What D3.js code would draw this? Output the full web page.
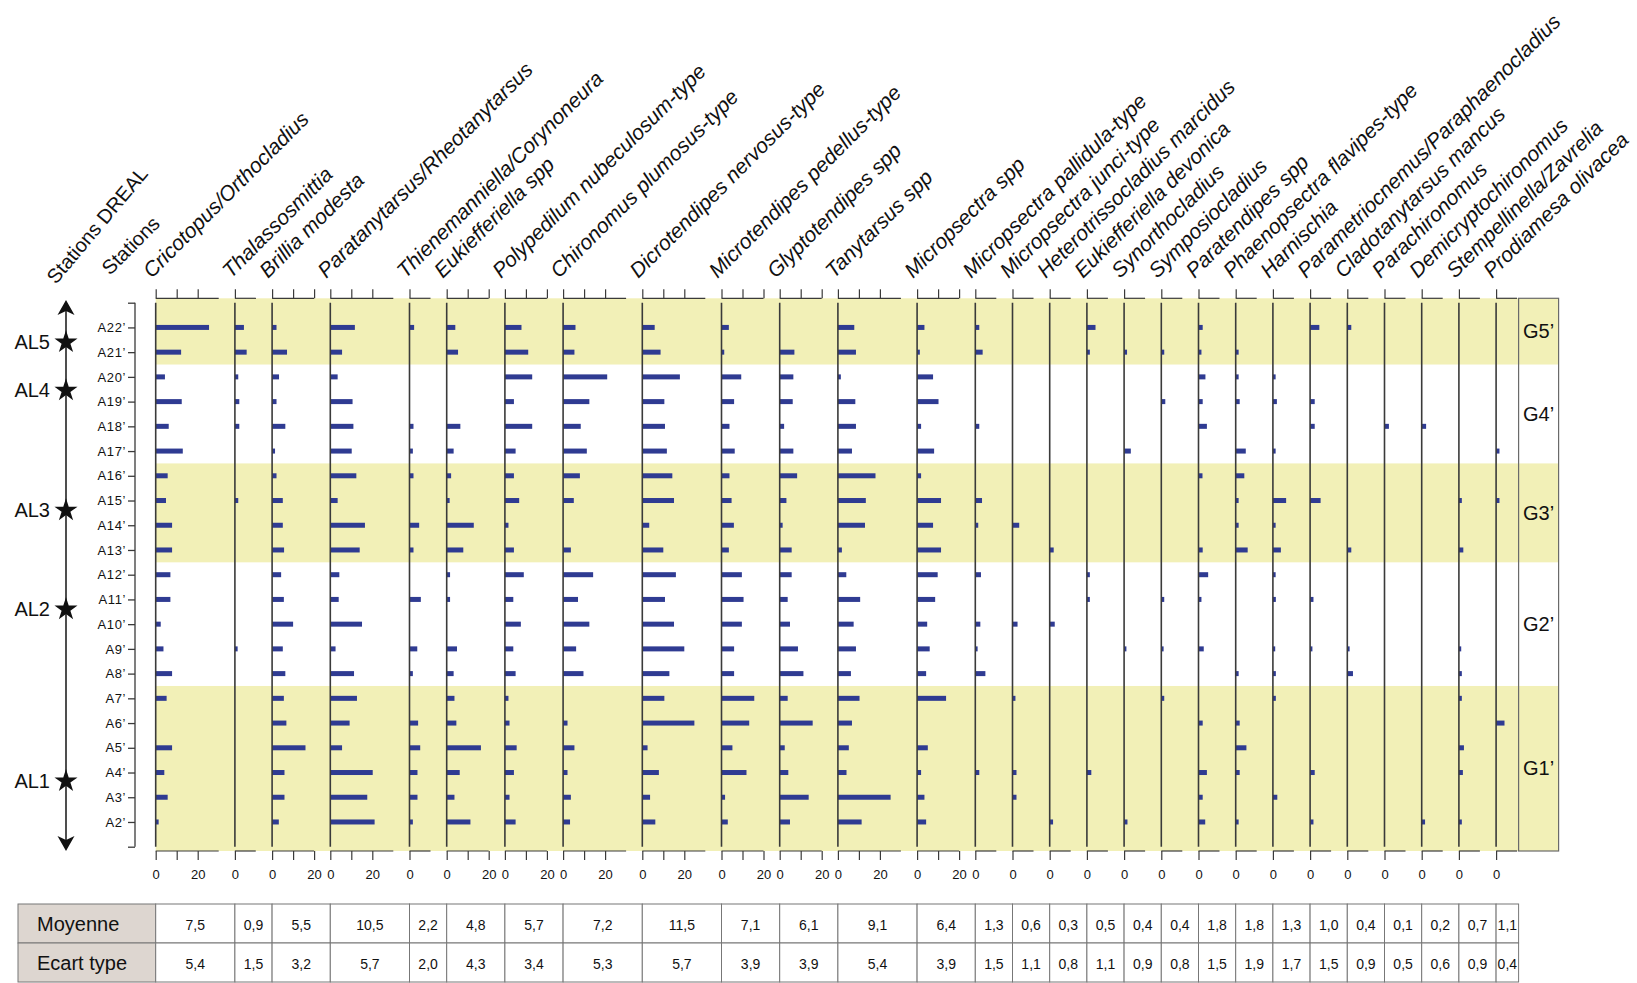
<!DOCTYPE html>
<html>
<head>
<meta charset="utf-8">
<script src="https://cdn.jsdelivr.net/npm/d3@7"></script>
<style>
  body { margin: 0; background: #fff; }
  svg { display: block; font-family: "Liberation Sans", Arial, sans-serif; }
</style>
</head>
<body>
<svg id="chart" width="1637" height="983"></svg>
<script>
// ---- Data ---------------------------------------------------------------
const taxa = [
  "Cricotopus/Orthocladius", "Thalassosmittia", "Brillia modesta",
  "Paratanytarsus/Rheotanytarsus", "Thienemanniella/Corynoneura",
  "Eukiefferiella spp", "Polypedilum nubeculosum-type", "Chironomus plumosus-type",
  "Dicrotendipes nervosus-type", "Microtendipes pedellus-type", "Glyptotendipes spp",
  "Tanytarsus spp", "Micropsectra spp", "Micropsectra pallidula-type",
  "Micropsectra junci-type", "Heterotrissocladius marcidus", "Eukiefferiella devonica",
  "Synorthocladius", "Symposiocladius", "Paratendipes spp", "Phaenopsectra flavipes-type",
  "Harnischia", "Parametriocnemus/Paraphaenocladius", "Cladotanytarsus mancus",
  "Parachironomus", "Demicryptochironomus", "Stempellinella/Zavrelia", "Prodiamesa olivacea"
];

// upper bound of each taxon's abundance axis (%)
const axisMax = [30, 10, 20, 30, 10, 20, 20, 30, 30, 20, 20, 30, 20,
                 10, 10, 10, 10, 10, 10, 10, 10, 10, 10, 10, 10, 10, 10, 10];

// stations, upstream (A22') to downstream (A2')
const stationNums = [22, 21, 20, 19, 18, 17, 16, 15, 14, 13, 12, 11, 10, 9, 8, 7, 6, 5, 4, 3, 2];

// relative abundance (%) of each taxon, one value per station (A22' .. A2')
const abundance = [
  [25.4, 12.1, 4.4, 12.4, 6.2, 12.9, 5.7, 4.9, 7.8, 7.8, 7.0, 7.0, 2.4, 3.7, 7.8, 5.2, 0, 7.8, 4.1, 5.7, 1.4],
  [4.3, 5.6, 1.6, 2.1, 2.1, 0, 0, 1.6, 0, 0, 0, 0, 0, 1.3, 0, 0, 0, 0, 0, 0, 0],
  [2.1, 7.1, 3.3, 2.1, 6.3, 1.4, 2.1, 5.1, 5.1, 5.7, 4.3, 5.6, 10.0, 5.1, 6.3, 5.6, 6.8, 15.9, 5.9, 5.9, 3.2],
  [11.7, 5.6, 3.5, 10.6, 11.0, 10.2, 12.4, 3.5, 16.5, 14.0, 4.3, 4.0, 15.1, 2.5, 11.3, 12.7, 9.2, 5.6, 20.2, 17.6, 21.1],
  [2.2, 0, 0, 0, 1.9, 1.6, 1.9, 0, 4.6, 1.9, 0, 5.4, 0, 3.7, 1.6, 0, 4.1, 5.1, 3.8, 3.8, 1.6],
  [4.1, 5.4, 0, 0, 6.5, 3.3, 2.1, 1.4, 12.9, 7.9, 1.6, 1.6, 0, 4.9, 3.3, 3.7, 4.6, 16.3, 6.2, 3.7, 11.3],
  [7.9, 11.1, 13.0, 4.3, 13.0, 5.1, 4.3, 6.8, 1.7, 4.3, 9.0, 4.0, 7.6, 4.0, 5.1, 1.7, 2.2, 5.6, 4.3, 2.2, 5.1],
  [5.9, 5.4, 21.0, 12.5, 8.4, 11.3, 8.0, 5.1, 0, 3.7, 14.3, 7.1, 12.5, 6.2, 9.7, 0, 2.1, 5.4, 2.1, 3.7, 3.3],
  [5.9, 8.7, 17.9, 10.5, 10.8, 11.7, 14.3, 15.1, 3.3, 10.0, 16.0, 10.8, 15.1, 20.0, 12.9, 10.5, 24.8, 2.5, 7.9, 3.7, 6.2],
  [3.5, 1.3, 9.4, 6.0, 3.8, 6.3, 3.8, 4.8, 5.9, 3.5, 9.7, 10.5, 9.7, 6.0, 6.0, 15.6, 13.2, 5.2, 11.9, 1.7, 3.0],
  [0, 7.0, 6.5, 6.2, 2.1, 6.5, 8.3, 3.2, 1.4, 5.7, 5.7, 3.8, 4.9, 8.7, 11.3, 3.8, 15.7, 2.4, 4.1, 13.8, 4.9],
  [7.8, 8.6, 1.4, 8.3, 8.6, 6.7, 17.9, 13.3, 12.9, 1.9, 4.0, 10.6, 7.5, 8.6, 6.2, 10.3, 6.7, 5.2, 4.1, 25.1, 11.3],
  [3.5, 1.3, 7.6, 10.2, 1.9, 8.1, 1.9, 11.4, 7.6, 11.4, 9.8, 8.6, 4.8, 6.0, 4.3, 13.8, 0, 5.1, 1.9, 3.5, 4.3],
  [1.9, 3.5, 0, 0, 1.9, 0, 0, 3.2, 1.4, 0, 2.7, 0, 2.4, 1.1, 4.8, 0, 0, 0, 1.9, 0, 0],
  [0, 0, 0, 0, 0, 0, 0, 0, 3.2, 0, 0, 0, 2.4, 0, 0, 1.4, 0, 0, 1.9, 1.9, 0],
  [0, 0, 0, 0, 0, 0, 0, 0, 0, 1.9, 0, 0, 2.4, 0, 0, 0, 0, 0, 0, 0, 1.6],
  [4.1, 1.4, 0, 0, 0, 0, 0, 0, 0, 0, 1.4, 1.4, 0, 0, 0, 0, 0, 0, 2.1, 0, 0],
  [0, 1.4, 0, 0, 0, 3.2, 0, 0, 0, 0, 0, 0, 0, 1.1, 0, 0, 0, 0, 0, 0, 1.6],
  [0, 1.4, 0, 1.9, 0, 0, 0, 0, 0, 0, 0, 1.4, 0, 1.1, 0, 1.4, 0, 0, 0, 0, 0],
  [2.0, 1.4, 3.3, 2.0, 4.0, 0, 1.9, 0, 0, 2.0, 4.6, 1.4, 0, 2.5, 0, 0, 2.0, 0, 4.0, 2.0, 3.2],
  [0, 1.4, 1.4, 1.9, 0, 4.8, 4.1, 1.4, 1.4, 5.7, 0, 0, 0, 0, 1.4, 0, 1.9, 5.1, 1.9, 0, 1.4],
  [0, 0, 1.3, 1.9, 0, 1.3, 0, 6.3, 1.3, 3.8, 1.3, 1.4, 0, 1.1, 1.4, 1.4, 0, 0, 0, 2.1, 0],
  [4.4, 0, 0, 2.2, 2.2, 0, 0, 5.0, 0, 0, 0, 1.6, 0, 1.1, 0, 0, 0, 0, 2.2, 0, 1.6],
  [1.9, 0, 0, 0, 0, 0, 0, 0, 0, 1.9, 0, 0, 0, 1.1, 2.7, 0, 0, 0, 0, 0, 0],
  [0, 0, 0, 0, 2.1, 0, 0, 0, 0, 0, 0, 0, 0, 0, 0, 0, 0, 0, 0, 0, 0],
  [0, 0, 0, 0, 2.1, 0, 0, 0, 0, 0, 0, 0, 0, 0, 0, 0, 0, 0, 0, 0, 1.6],
  [0, 0, 0, 0, 0, 0, 0, 1.4, 0, 2.1, 0, 0, 0, 1.1, 1.4, 1.4, 0, 2.4, 1.9, 0, 1.4],
  [0, 0, 0, 0, 0, 1.6, 0, 1.6, 0, 0, 0, 0, 0, 0, 0, 0, 4.0, 0, 0, 0, 0]
];

const moyenne   = ["7,5", "0,9", "5,5", "10,5", "2,2", "4,8", "5,7", "7,2", "11,5", "7,1", "6,1", "9,1", "6,4", "1,3",
                   "0,6", "0,3", "0,5", "0,4", "0,4", "1,8", "1,8", "1,3", "1,0", "0,4", "0,1", "0,2", "0,7", "1,1"];
const ecartType = ["5,4", "1,5", "3,2", "5,7", "2,0", "4,3", "3,4", "5,3", "5,7", "3,9", "3,9", "5,4", "3,9", "1,5",
                   "1,1", "0,8", "1,1", "0,9", "0,8", "1,5", "1,9", "1,7", "1,5", "0,9", "0,5", "0,6", "0,9", "0,4"];

// station groups (first/last station of each)
const groups = [
  { name: "G5\u2019", first: 22, last: 21, shaded: true },
  { name: "G4\u2019", first: 20, last: 17, shaded: false },
  { name: "G3\u2019", first: 16, last: 13, shaded: true },
  { name: "G2\u2019", first: 12, last: 8,  shaded: false },
  { name: "G1\u2019", first: 7,  last: 2,  shaded: true }
];

// DREAL stations placed along the river, in station units
const drealSites = [
  { name: "AL5", pos: 21.4 },
  { name: "AL4", pos: 19.45 },
  { name: "AL3", pos: 14.6 },
  { name: "AL2", pos: 10.6 },
  { name: "AL1", pos: 3.65 }
];

const tickLabels = [0, 20];

// ---- Layout -------------------------------------------------------------
const svg = d3.select("#chart");
const INK = "#3a3a3a";
const BAR = "#2f3b92";
const SHADE = "#f2f0b7";

const pxPerUnit = 2.1;
const colGap = 16.2;
const firstColX = 155.7;

const unit = d3.scaleLinear().domain([0, 1]).range([0, pxPerUnit]);
const colX = [];
axisMax.reduce((x, m, i) => { colX[i] = x; return x + unit(m) + colGap; }, firstColX);
const xScales = axisMax.map((m, i) => d3.scaleLinear().domain([0, m]).range([colX[i], colX[i] + unit(m)]));

const y = d3.scaleLinear().domain([23, 1]).range([302.7, 846.7]);
const topAxisY = 298.3;
const bottomAxisY = 851;
const boxLeft = colX[colX.length - 1] + unit(axisMax[axisMax.length - 1]) + 1.5;
const boxRight = boxLeft + 40;

// ---- Group bands --------------------------------------------------------
const bandTop = g => g.first === stationNums[0] ? topAxisY : y(g.first + 0.5);
const bandBottom = g => g.last === stationNums[stationNums.length - 1] ? bottomAxisY : y(g.last - 0.5);

svg.append("g").selectAll("rect")
  .data(groups.filter(g => g.shaded))
  .join("rect")
  .attr("x", firstColX)
  .attr("y", bandTop)
  .attr("width", boxRight - firstColX)
  .attr("height", g => bandBottom(g) - bandTop(g))
  .attr("fill", SHADE);

// group box on the right
svg.append("rect")
  .attr("x", boxLeft).attr("y", topAxisY)
  .attr("width", boxRight - boxLeft).attr("height", bottomAxisY - topAxisY)
  .attr("fill", "none").attr("stroke", "#6a6a6a").attr("stroke-width", 1.2);

svg.append("g").selectAll("text")
  .data(groups)
  .join("text")
  .attr("x", (boxLeft + boxRight) / 2)
  .attr("y", g => (bandTop(g) + bandBottom(g)) / 2)
  .attr("text-anchor", "middle")
  .attr("dominant-baseline", "central")
  .attr("font-size", 20)
  .attr("fill", "#111")
  .text(g => g.name);

// ---- Bars ---------------------------------------------------------------
const cols = svg.append("g").selectAll("g")
  .data(taxa)
  .join("g");

cols.selectAll("rect")
  .data((t, i) => abundance[i].map((v, k) => ({ v, k, i })).filter(d => d.v > 0))
  .join("rect")
  .attr("x", d => xScales[d.i](0))
  .attr("y", d => y(stationNums[d.k]) - 2.5)
  .attr("width", d => xScales[d.i](d.v) - xScales[d.i](0))
  .attr("height", 5)
  .attr("fill", BAR);

// baselines of each taxon
cols.append("line")
  .attr("x1", (t, i) => colX[i]).attr("x2", (t, i) => colX[i])
  .attr("y1", y(23)).attr("y2", y(1))
  .attr("stroke", INK).attr("stroke-width", 1.6);

// ---- Top and bottom abundance axes -------------------------------------
const tickVals = m => (m >= 20 ? [0, 10, 20] : [0]);

axisMax.forEach((m, i) => {
  const top = d3.axisTop(xScales[i]).tickValues(tickVals(m)).tickSize(9).tickFormat("");
  svg.append("g")
    .attr("transform", `translate(0,${topAxisY})`)
    .call(top)
    .call(g => g.select(".domain").attr("d", `M${colX[i]},0H${xScales[i](m)}`))
    .call(g => g.selectAll("path,line").attr("stroke", INK).attr("stroke-width", 1.2));

  const bottom = d3.axisBottom(xScales[i]).tickValues(tickVals(m)).tickSize(9)
    .tickFormat(v => tickLabels.includes(v) ? String(v) : "");
  svg.append("g")
    .attr("transform", `translate(0,${bottomAxisY})`)
    .call(bottom)
    .call(g => g.select(".domain").attr("d", `M${colX[i]},0H${xScales[i](m)}`))
    .call(g => g.selectAll("path,line").attr("stroke", INK).attr("stroke-width", 1.2))
    .call(g => g.selectAll("text")
      .attr("y", 19)
      .attr("font-family", "'Liberation Sans Narrow', 'Arial Narrow', 'Liberation Sans', sans-serif")
      .attr("font-size", 13)
      .attr("fill", "#111"));
});

// ---- Taxon headers ------------------------------------------------------
svg.append("g").selectAll("text")
  .data(taxa)
  .join("text")
  .attr("transform", (t, i) => `translate(${colX[i] - 4},279) rotate(-45)`)
  .attr("font-size", 21)
  .attr("font-style", "italic")
  .attr("fill", "#111")
  .text(t => t);

svg.append("text")
  .attr("transform", "translate(56,285) rotate(-50)")
  .attr("font-size", 20).attr("fill", "#111")
  .text("Stations DREAL");
svg.append("text")
  .attr("transform", "translate(110,276) rotate(-45)")
  .attr("font-size", 20).attr("fill", "#111")
  .text("Stations");

// ---- Station axis -------------------------------------------------------
const stationAxisX = 135;
const stationAxis = d3.axisLeft(y)
  .tickValues([23, ...stationNums, 1])
  .tickSize(7)
  .tickFormat(n => stationNums.includes(n) ? "A" + n + "\u2019" : "");
svg.append("g")
  .attr("transform", `translate(${stationAxisX},0)`)
  .call(stationAxis)
  .call(g => g.select(".domain").attr("d", `M0,${y(23)}V${y(1)}`))
  .call(g => g.selectAll("path,line").attr("stroke", INK).attr("stroke-width", 1.3))
  .call(g => g.selectAll("text")
    .attr("x", -9)
    .attr("font-size", 13)
    .attr("letter-spacing", 0.6)
    .attr("fill", "#111"));

// ---- River arrow with DREAL stations -----------------------------------
const riverX = 66;
const riverTop = 300;
const riverBottom = 851;
svg.append("line")
  .attr("x1", riverX).attr("x2", riverX)
  .attr("y1", riverTop + 6).attr("y2", riverBottom - 6)
  .attr("stroke", "#222").attr("stroke-width", 1.6);

const arrowHead = "M0,0L-8.5,15L0,11L8.5,15Z";
svg.append("path").attr("d", arrowHead)
  .attr("transform", `translate(${riverX},${riverTop})`).attr("fill", "#111");
svg.append("path").attr("d", arrowHead)
  .attr("transform", `translate(${riverX},${riverBottom}) rotate(180)`).attr("fill", "#111");

const star = d3.symbol().type(d3.symbolStar).size(165);
const sites = svg.append("g").selectAll("g")
  .data(drealSites)
  .join("g")
  .attr("transform", d => `translate(${riverX},${y(d.pos)})`);
sites.append("path").attr("d", star).attr("fill", "#111");
sites.append("text")
  .attr("x", -16)
  .attr("text-anchor", "end")
  .attr("dominant-baseline", "central")
  .attr("font-size", 20)
  .attr("fill", "#111")
  .text(d => d.name);

// ---- Summary table ------------------------------------------------------
const tableLeft = 18;
const rowTop = [904, 943];
const rowH = 39;
const edges = [...colX, boxLeft];
const rows = [
  { label: "Moyenne", values: moyenne },
  { label: "Ecart type", values: ecartType }
];

const table = svg.append("g");
rows.forEach((r, ri) => {
  const yTop = rowTop[ri];
  table.append("rect")
    .attr("x", tableLeft).attr("y", yTop)
    .attr("width", firstColX - tableLeft).attr("height", rowH)
    .attr("fill", "#ddd6d0").attr("stroke", "#777").attr("stroke-width", 1);
  table.append("text")
    .attr("x", tableLeft + 19).attr("y", yTop + rowH / 2)
    .attr("dominant-baseline", "central")
    .attr("font-size", 20).attr("fill", "#111")
    .text(r.label);
  table.selectAll(null)
    .data(r.values)
    .join("rect")
    .attr("x", (v, i) => edges[i]).attr("y", yTop)
    .attr("width", (v, i) => edges[i + 1] - edges[i]).attr("height", rowH)
    .attr("fill", "#fff").attr("stroke", "#777").attr("stroke-width", 1);
  table.selectAll(null)
    .data(r.values)
    .join("text")
    .attr("x", (v, i) => (edges[i] + edges[i + 1]) / 2)
    .attr("y", yTop + rowH / 2 + 1)
    .attr("text-anchor", "middle")
    .attr("dominant-baseline", "central")
    .attr("font-family", "'Liberation Sans Narrow', 'Arial Narrow', 'Liberation Sans', sans-serif")
    .attr("font-size", 14).attr("fill", "#111")
    .text(v => v);
});
</script>
</body>
</html>
